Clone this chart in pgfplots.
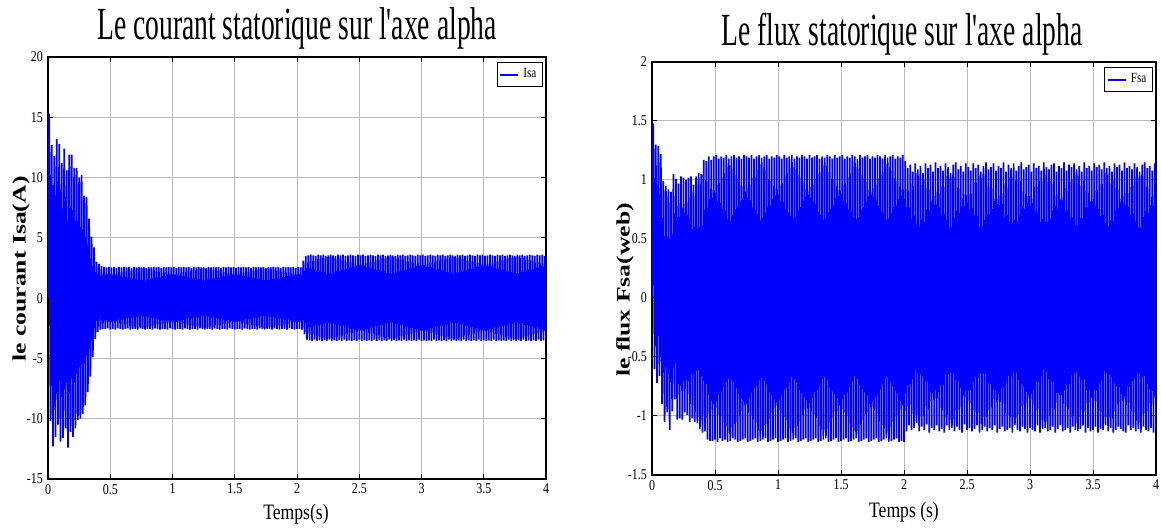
\documentclass[border=0pt]{standalone}
\usepackage{fontspec}
\setmainfont{Liberation Serif}
\newfontfamily\titlefont[FakeStretch=0.6]{Liberation Serif}
\newfontfamily\tickfont[FakeStretch=0.8]{Liberation Serif}
\newfontfamily\labfont[FakeStretch=1.35]{Liberation Serif}
\usepackage{pgfplots}
\pgfplotsset{compat=1.18}
\pgfplotsset{myax/.style={
  anchor=south west, scale only axis, xmin=0, xmax=4,
  xtick={0,0.5,1,1.5,2,2.5,3,3.5,4},
  grid=major, major grid style={gray!55, line width=0.5pt},
  axis line style={line width=0.8pt},
  tick style={black, line width=0.5pt}, major tick length=2.5pt,
  tick label style={font=\tickfont\fontsize{7.5}{8}\selectfont},
  /pgf/number format/assume math mode=true,
  xticklabel style={yshift=1pt},
  yticklabel style={xshift=1pt},
  legend style={at={(1,1)}, anchor=north east, xshift=-1.5pt, yshift=-2.5pt,
    font=\tickfont\fontsize{7}{8}\selectfont, inner sep=1pt, draw=black, line width=0.6pt,
    legend cell align=left},
  legend image code/.code={\draw[draw=blue, line width=1pt] (0pt,0pt) -- (9pt,0pt);},
}}
\begin{document}
\begin{tikzpicture}
\path[use as bounding box] (0,0) rectangle (580.5pt,264pt);
\begin{axis}[myax, at={(24pt,24.5pt)}, width=249pt, height=211pt,
  ymin=-15, ymax=20, ytick={-15,-10,-5,0,5,10,15,20}]
\addplot[blue, line width=0.85pt] coordinates {
(0,0)
(0.01,15.3)(0.02,-10.2)(0.03,12.7)(0.04,-12.3)(0.05,11.8)(0.06,-11.5)(0.07,13.2)(0.08,-10.5)(0.09,12.8)(0.10,-11.9)
(0.11,11.2)(0.12,-11.6)(0.13,12.4)(0.14,-10.8)(0.15,10.6)(0.16,-12.4)(0.17,11.9)(0.18,-11.1)(0.19,11.9)(0.20,-11.5)
(0.21,10.8)(0.22,-10.8)(0.23,10.8)(0.24,-10.1)(0.25,10.0)(0.26,-10.0)(0.27,10.2)(0.28,-9.6)(0.29,8.5)(0.30,-8.9)
(0.31,8.4)(0.32,-7.8)(0.33,6.6)(0.34,-6.5)(0.35,5.1)(0.36,-4.9)(0.37,4.2)(0.38,-3.4)(0.39,3.0)(0.40,-2.8)
(0.41,2.85)(0.42,-2.6)(0.43,2.65)(0.44,-2.55)(0.45,2.6)(0.46,-2.55)(0.47,2.55)(0.48,-2.5)(0.49,2.6)(0.50,-2.6)
(0.51,2.55)(0.52,-2.55)(0.53,2.6)(0.54,-2.6)(0.55,2.5)(0.56,-2.5)(0.57,2.6)(0.58,-2.55)(0.59,2.55)(0.60,-2.6)
(0.61,2.6)(0.62,-2.55)(0.63,2.55)(0.64,-2.5)(0.65,2.6)(0.66,-2.6)(0.67,2.5)(0.68,-2.55)(0.69,2.6)(0.70,-2.55)
(0.71,2.55)(0.72,-2.6)(0.73,2.6)(0.74,-2.5)(0.75,2.55)(0.76,-2.55)(0.77,2.6)(0.78,-2.6)(0.79,2.5)(0.80,-2.55)
(0.81,2.6)(0.82,-2.55)(0.83,2.55)(0.84,-2.6)(0.85,2.6)(0.86,-2.5)(0.87,2.55)(0.88,-2.55)(0.89,2.6)(0.90,-2.6)
(0.91,2.5)(0.92,-2.55)(0.93,2.6)(0.94,-2.55)(0.95,2.55)(0.96,-2.6)(0.97,2.6)(0.98,-2.5)(0.99,2.55)(1.00,-2.55)
(1.01,2.6)(1.02,-2.6)(1.03,2.5)(1.04,-2.55)(1.05,2.6)(1.06,-2.55)(1.07,2.55)(1.08,-2.6)(1.09,2.6)(1.10,-2.5)
(1.11,2.55)(1.12,-2.55)(1.13,2.6)(1.14,-2.6)(1.15,2.5)(1.16,-2.55)(1.17,2.6)(1.18,-2.55)(1.19,2.55)(1.20,-2.6)
(1.21,2.6)(1.22,-2.5)(1.23,2.55)(1.24,-2.55)(1.25,2.6)(1.26,-2.6)(1.27,2.5)(1.28,-2.55)(1.29,2.6)(1.30,-2.55)
(1.31,2.55)(1.32,-2.6)(1.33,2.6)(1.34,-2.5)(1.35,2.55)(1.36,-2.55)(1.37,2.6)(1.38,-2.6)(1.39,2.5)(1.40,-2.55)
(1.41,2.6)(1.42,-2.55)(1.43,2.55)(1.44,-2.6)(1.45,2.6)(1.46,-2.5)(1.47,2.55)(1.48,-2.55)(1.49,2.6)(1.50,-2.6)
(1.51,2.5)(1.52,-2.55)(1.53,2.6)(1.54,-2.55)(1.55,2.55)(1.56,-2.6)(1.57,2.6)(1.58,-2.5)(1.59,2.55)(1.60,-2.55)
(1.61,2.6)(1.62,-2.6)(1.63,2.5)(1.64,-2.55)(1.65,2.6)(1.66,-2.55)(1.67,2.55)(1.68,-2.6)(1.69,2.6)(1.70,-2.5)
(1.71,2.55)(1.72,-2.55)(1.73,2.6)(1.74,-2.6)(1.75,2.5)(1.76,-2.55)(1.77,2.6)(1.78,-2.55)(1.79,2.55)(1.80,-2.6)
(1.81,2.6)(1.82,-2.5)(1.83,2.55)(1.84,-2.55)(1.85,2.6)(1.86,-2.6)(1.87,2.5)(1.88,-2.55)(1.89,2.6)(1.90,-2.55)
(1.91,2.55)(1.92,-2.6)(1.93,2.6)(1.94,-2.5)(1.95,2.55)(1.96,-2.55)(1.97,2.6)(1.98,-2.6)(1.99,2.5)(2.00,-2.55)
(2.01,2.6)(2.02,-2.55)(2.03,2.55)(2.04,-2.6)(2.05,3.1)(2.06,-3.0)(2.07,3.5)(2.08,-3.45)(2.09,3.55)(2.10,-3.5)
(2.11,3.6)(2.12,-3.55)(2.13,3.55)(2.14,-3.45)(2.15,3.5)(2.16,-3.55)(2.17,3.6)(2.18,-3.5)(2.19,3.55)(2.20,-3.55)
(2.21,3.6)(2.22,-3.5)(2.23,3.5)(2.24,-3.55)(2.25,3.55)(2.26,-3.45)(2.27,3.6)(2.28,-3.55)(2.29,3.55)(2.30,-3.5)
(2.31,3.5)(2.32,-3.55)(2.33,3.6)(2.34,-3.5)(2.35,3.55)(2.36,-3.55)(2.37,3.6)(2.38,-3.45)(2.39,3.5)(2.40,-3.55)
(2.41,3.55)(2.42,-3.5)(2.43,3.6)(2.44,-3.55)(2.45,3.55)(2.46,-3.5)(2.47,3.5)(2.48,-3.55)(2.49,3.6)(2.50,-3.45)
(2.51,3.55)(2.52,-3.55)(2.53,3.6)(2.54,-3.5)(2.55,3.5)(2.56,-3.55)(2.57,3.55)(2.58,-3.5)(2.59,3.6)(2.60,-3.55)
(2.61,3.55)(2.62,-3.45)(2.63,3.5)(2.64,-3.55)(2.65,3.6)(2.66,-3.5)(2.67,3.55)(2.68,-3.55)(2.69,3.6)(2.70,-3.5)
(2.71,3.5)(2.72,-3.55)(2.73,3.55)(2.74,-3.45)(2.75,3.6)(2.76,-3.55)(2.77,3.55)(2.78,-3.5)(2.79,3.5)(2.80,-3.55)
(2.81,3.6)(2.82,-3.5)(2.83,3.55)(2.84,-3.55)(2.85,3.6)(2.86,-3.45)(2.87,3.5)(2.88,-3.55)(2.89,3.55)(2.90,-3.5)
(2.91,3.6)(2.92,-3.55)(2.93,3.55)(2.94,-3.5)(2.95,3.5)(2.96,-3.55)(2.97,3.6)(2.98,-3.45)(2.99,3.55)(3.00,-3.55)
(3.01,3.6)(3.02,-3.5)(3.03,3.5)(3.04,-3.55)(3.05,3.55)(3.06,-3.5)(3.07,3.6)(3.08,-3.55)(3.09,3.55)(3.10,-3.45)
(3.11,3.5)(3.12,-3.55)(3.13,3.6)(3.14,-3.5)(3.15,3.55)(3.16,-3.55)(3.17,3.6)(3.18,-3.5)(3.19,3.5)(3.20,-3.55)
(3.21,3.55)(3.22,-3.45)(3.23,3.6)(3.24,-3.55)(3.25,3.55)(3.26,-3.5)(3.27,3.5)(3.28,-3.55)(3.29,3.6)(3.30,-3.5)
(3.31,3.55)(3.32,-3.55)(3.33,3.6)(3.34,-3.45)(3.35,3.5)(3.36,-3.55)(3.37,3.55)(3.38,-3.5)(3.39,3.6)(3.40,-3.55)
(3.41,3.55)(3.42,-3.5)(3.43,3.5)(3.44,-3.55)(3.45,3.6)(3.46,-3.45)(3.47,3.55)(3.48,-3.55)(3.49,3.6)(3.50,-3.5)
(3.51,3.5)(3.52,-3.55)(3.53,3.55)(3.54,-3.5)(3.55,3.6)(3.56,-3.55)(3.57,3.55)(3.58,-3.45)(3.59,3.5)(3.60,-3.55)
(3.61,3.6)(3.62,-3.5)(3.63,3.55)(3.64,-3.55)(3.65,3.6)(3.66,-3.5)(3.67,3.5)(3.68,-3.55)(3.69,3.55)(3.70,-3.45)
(3.71,3.6)(3.72,-3.55)(3.73,3.55)(3.74,-3.5)(3.75,3.5)(3.76,-3.55)(3.77,3.6)(3.78,-3.5)(3.79,3.55)(3.80,-3.55)
(3.81,3.6)(3.82,-3.45)(3.83,3.5)(3.84,-3.55)(3.85,3.55)(3.86,-3.5)(3.87,3.6)(3.88,-3.55)(3.89,3.55)(3.90,-3.5)
(3.91,3.5)(3.92,-3.55)(3.93,3.6)(3.94,-3.45)(3.95,3.55)(3.96,-3.55)(3.97,3.6)(3.98,-3.5)(3.99,3.5)(4.00,-3.55)
};
\addlegendentry{Isa}
\end{axis}
\begin{axis}[myax, at={(326pt,26.5pt)}, width=252pt, height=206.5pt,
  ymin=-1.5, ymax=2, ytick={-1.5,-1,-0.5,0,0.5,1,1.5,2}]
\addplot[blue, line width=0.85pt] coordinates {
(0,0)
(0.01,1.48)(0.02,-0.60)(0.03,1.30)(0.04,-0.72)(0.05,1.29)(0.06,-0.66)(0.07,1.22)(0.08,-0.90)(0.09,0.99)(0.10,-1.05)
(0.11,0.95)(0.12,-0.97)(0.13,0.92)(0.14,-1.12)(0.15,0.90)(0.16,-0.96)(0.17,1.05)(0.18,-0.86)(0.19,1.01)(0.20,-1.03)
(0.21,0.97)(0.22,-1.02)(0.23,1.03)(0.24,-1.03)(0.25,1.02)(0.26,-0.97)(0.27,1.00)(0.28,-0.99)(0.29,1.02)(0.30,-1.05)
(0.31,1.03)(0.32,-1.02)(0.33,0.96)(0.34,-1.05)(0.35,1.03)(0.36,-1.06)(0.37,1.06)(0.38,-1.11)(0.39,1.05)(0.40,-1.14)
(0.41,1.17)(0.42,-1.13)(0.43,1.16)(0.44,-1.20)(0.45,1.20)(0.46,-1.21)(0.47,1.17)(0.48,-1.21)(0.49,1.20)(0.50,-1.20)
(0.51,1.21)(0.52,-1.22)(0.53,1.18)(0.54,-1.19)(0.55,1.20)(0.56,-1.21)(0.57,1.19)(0.58,-1.20)(0.59,1.21)(0.60,-1.22)
(0.61,1.18)(0.62,-1.21)(0.63,1.20)(0.64,-1.19)(0.65,1.21)(0.66,-1.20)(0.67,1.19)(0.68,-1.22)(0.69,1.20)(0.70,-1.21)
(0.71,1.18)(0.72,-1.20)(0.73,1.21)(0.74,-1.19)(0.75,1.20)(0.76,-1.22)(0.77,1.19)(0.78,-1.21)(0.79,1.21)(0.80,-1.20)
(0.81,1.18)(0.82,-1.19)(0.83,1.20)(0.84,-1.22)(0.85,1.21)(0.86,-1.21)(0.87,1.19)(0.88,-1.20)(0.89,1.20)(0.90,-1.19)
(0.91,1.21)(0.92,-1.22)(0.93,1.18)(0.94,-1.21)(0.95,1.20)(0.96,-1.20)(0.97,1.19)(0.98,-1.19)(0.99,1.21)(1.00,-1.22)
(1.01,1.20)(1.02,-1.21)(1.03,1.18)(1.04,-1.20)(1.05,1.21)(1.06,-1.19)(1.07,1.19)(1.08,-1.22)(1.09,1.20)(1.10,-1.21)
(1.11,1.21)(1.12,-1.20)(1.13,1.18)(1.14,-1.19)(1.15,1.20)(1.16,-1.22)(1.17,1.19)(1.18,-1.21)(1.19,1.21)(1.20,-1.20)
(1.21,1.20)(1.22,-1.19)(1.23,1.18)(1.24,-1.22)(1.25,1.21)(1.26,-1.21)(1.27,1.19)(1.28,-1.20)(1.29,1.20)(1.30,-1.19)
(1.31,1.21)(1.32,-1.22)(1.33,1.18)(1.34,-1.21)(1.35,1.20)(1.36,-1.20)(1.37,1.19)(1.38,-1.19)(1.39,1.21)(1.40,-1.22)
(1.41,1.20)(1.42,-1.21)(1.43,1.18)(1.44,-1.20)(1.45,1.21)(1.46,-1.19)(1.47,1.19)(1.48,-1.22)(1.49,1.20)(1.50,-1.21)
(1.51,1.21)(1.52,-1.20)(1.53,1.18)(1.54,-1.19)(1.55,1.20)(1.56,-1.22)(1.57,1.19)(1.58,-1.21)(1.59,1.21)(1.60,-1.20)
(1.61,1.20)(1.62,-1.19)(1.63,1.18)(1.64,-1.22)(1.65,1.21)(1.66,-1.21)(1.67,1.19)(1.68,-1.20)(1.69,1.20)(1.70,-1.19)
(1.71,1.21)(1.72,-1.22)(1.73,1.18)(1.74,-1.21)(1.75,1.20)(1.76,-1.20)(1.77,1.19)(1.78,-1.19)(1.79,1.21)(1.80,-1.22)
(1.81,1.20)(1.82,-1.21)(1.83,1.18)(1.84,-1.20)(1.85,1.21)(1.86,-1.19)(1.87,1.19)(1.88,-1.22)(1.89,1.20)(1.90,-1.21)
(1.91,1.21)(1.92,-1.20)(1.93,1.18)(1.94,-1.19)(1.95,1.20)(1.96,-1.22)(1.97,1.19)(1.98,-1.21)(1.99,1.21)(2.00,-1.22)
(2.01,1.16)(2.02,-1.13)(2.03,1.10)(2.04,-1.08)(2.05,1.13)(2.06,-1.12)(2.07,1.07)(2.08,-1.10)(2.09,1.14)(2.10,-1.06)
(2.11,1.09)(2.12,-1.13)(2.13,1.12)(2.14,-1.09)(2.15,1.06)(2.16,-1.12)(2.17,1.14)(2.18,-1.07)(2.19,1.10)(2.20,-1.14)
(2.21,1.13)(2.22,-1.10)(2.23,1.07)(2.24,-1.12)(2.25,1.15)(2.26,-1.08)(2.27,1.10)(2.28,-1.13)(2.29,1.12)(2.30,-1.11)
(2.31,1.08)(2.32,-1.14)(2.33,1.14)(2.34,-1.08)(2.35,1.11)(2.36,-1.12)(2.37,1.06)(2.38,-1.10)(2.39,1.13)(2.40,-1.13)
(2.41,1.15)(2.42,-1.09)(2.43,1.09)(2.44,-1.12)(2.45,1.12)(2.46,-1.14)(2.47,1.07)(2.48,-1.07)(2.49,1.14)(2.50,-1.12)
(2.51,1.11)(2.52,-1.10)(2.53,1.08)(2.54,-1.13)(2.55,1.14)(2.56,-1.11)(2.57,1.10)(2.58,-1.08)(2.59,1.13)(2.60,-1.14)
(2.61,1.07)(2.62,-1.12)(2.63,1.12)(2.64,-1.09)(2.65,1.15)(2.66,-1.13)(2.67,1.09)(2.68,-1.10)(2.69,1.11)(2.70,-1.12)
(2.71,1.14)(2.72,-1.08)(2.73,1.08)(2.74,-1.14)(2.75,1.12)(2.76,-1.11)(2.77,1.10)(2.78,-1.09)(2.79,1.15)(2.80,-1.13)
(2.81,1.07)(2.82,-1.12)(2.83,1.13)(2.84,-1.10)(2.85,1.10)(2.86,-1.14)(2.87,1.14)(2.88,-1.08)(2.89,1.08)(2.90,-1.12)
(2.91,1.12)(2.92,-1.13)(2.93,1.15)(2.94,-1.09)(2.95,1.09)(2.96,-1.11)(2.97,1.11)(2.98,-1.14)(2.99,1.13)(3.00,-1.10)
(3.01,1.07)(3.02,-1.12)(3.03,1.14)(3.04,-1.13)(3.05,1.10)(3.06,-1.08)(3.07,1.12)(3.08,-1.14)(3.09,1.08)(3.10,-1.11)
(3.11,1.15)(3.12,-1.10)(3.13,1.11)(3.14,-1.13)(3.15,1.09)(3.16,-1.12)(3.17,1.13)(3.18,-1.09)(3.19,1.14)(3.20,-1.14)
(3.21,1.07)(3.22,-1.11)(3.23,1.12)(3.24,-1.08)(3.25,1.10)(3.26,-1.13)(3.27,1.15)(3.28,-1.12)(3.29,1.08)(3.30,-1.10)
(3.31,1.13)(3.32,-1.14)(3.33,1.11)(3.34,-1.09)(3.35,1.14)(3.36,-1.12)(3.37,1.09)(3.38,-1.13)(3.39,1.12)(3.40,-1.11)
(3.41,1.07)(3.42,-1.08)(3.43,1.15)(3.44,-1.14)(3.45,1.10)(3.46,-1.10)(3.47,1.12)(3.48,-1.13)(3.49,1.08)(3.50,-1.12)
(3.51,1.14)(3.52,-1.09)(3.53,1.11)(3.54,-1.14)(3.55,1.13)(3.56,-1.11)(3.57,1.09)(3.58,-1.12)(3.59,1.15)(3.60,-1.08)
(3.61,1.10)(3.62,-1.13)(3.63,1.12)(3.64,-1.10)(3.65,1.07)(3.66,-1.14)(3.67,1.14)(3.68,-1.12)(3.69,1.11)(3.70,-1.09)
(3.71,1.13)(3.72,-1.11)(3.73,1.08)(3.74,-1.13)(3.75,1.15)(3.76,-1.14)(3.77,1.10)(3.78,-1.08)(3.79,1.12)(3.80,-1.12)
(3.81,1.09)(3.82,-1.10)(3.83,1.14)(3.84,-1.13)(3.85,1.11)(3.86,-1.11)(3.87,1.07)(3.88,-1.14)(3.89,1.13)(3.90,-1.09)
(3.91,1.15)(3.92,-1.12)(3.93,1.10)(3.94,-1.13)(3.95,1.12)(3.96,-1.10)(3.97,1.08)(3.98,-1.14)(3.99,1.14)(4.00,-1.11)
};
\addlegendentry{Fsa}
\end{axis}
\node[font=\titlefont\fontsize{23}{26}\selectfont] at (148.5pt,250pt) {Le courant statorique sur l'axe alpha};
\node[font=\titlefont\fontsize{23}{26}\selectfont] at (451pt,247pt) {Le flux statorique sur l'axe alpha};
\node[font=\tickfont\fontsize{11}{12}\selectfont] at (148pt,7pt) {Temps(s)};
\node[font=\tickfont\fontsize{11}{12}\selectfont] at (452pt,8pt) {Temps (s)};
\node[font=\labfont\bfseries\fontsize{9.5}{12}\selectfont, rotate=90] at (10.5pt,129.5pt) {le courant Isa(A)};
\node[font=\labfont\bfseries\fontsize{9.5}{12}\selectfont, rotate=90] at (312.5pt,119pt) {le flux Fsa(web)};
\end{tikzpicture}
\end{document}
